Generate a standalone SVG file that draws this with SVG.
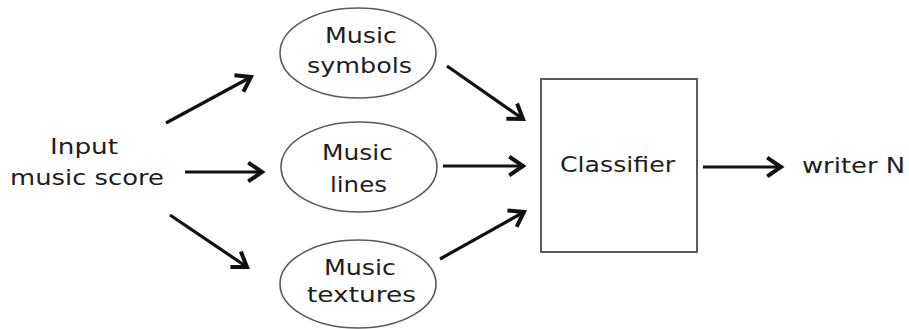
<svg xmlns="http://www.w3.org/2000/svg" width="909" height="329" viewBox="0 0 909 329">
<style>
  .lbl{font-family:"DejaVu Sans","Liberation Sans",sans-serif;font-size:22px;fill:#1e1e1e}
  .ell{fill:#fff;stroke:#5a5a5a;stroke-width:1.6}
  .box{fill:#fff;stroke:#5a5a5a;stroke-width:2}
  .edge{stroke:#111;stroke-width:3.2;fill:none;marker-end:url(#ah)}
</style>
<defs>
  <marker id="ah" markerUnits="userSpaceOnUse" markerWidth="30" markerHeight="30" refX="0" refY="0" viewBox="-16 -12 20 24" orient="auto">
    <path d="M-11,-7.5 L0,0 L-11,7.5" fill="none" stroke="#111" stroke-width="3.2" stroke-linejoin="miter"/>
  </marker>
</defs>
<rect width="909" height="329" fill="#fff"/>
<g id="input">
  <text class="lbl" x="50" y="154" textLength="68" lengthAdjust="spacingAndGlyphs">Input</text>
  <text class="lbl" x="10" y="185" textLength="154" lengthAdjust="spacingAndGlyphs">music score</text>
</g>
<g id="symbols">
  <ellipse class="ell" cx="358" cy="53" rx="78" ry="45"/>
  <text class="lbl" x="325" y="43" textLength="72" lengthAdjust="spacingAndGlyphs">Music</text>
  <text class="lbl" x="307" y="73" textLength="105" lengthAdjust="spacingAndGlyphs">symbols</text>
</g>
<g id="lines">
  <ellipse class="ell" cx="359" cy="167" rx="78" ry="45"/>
  <text class="lbl" x="322" y="160" textLength="71" lengthAdjust="spacingAndGlyphs">Music</text>
  <text class="lbl" x="330" y="192" textLength="57" lengthAdjust="spacingAndGlyphs">lines</text>
</g>
<g id="textures">
  <ellipse class="ell" cx="358" cy="284" rx="78" ry="44"/>
  <text class="lbl" x="324" y="275" textLength="72" lengthAdjust="spacingAndGlyphs">Music</text>
  <text class="lbl" x="307" y="302" textLength="109" lengthAdjust="spacingAndGlyphs">textures</text>
</g>
<g id="classifier">
  <rect class="box" x="541" y="79" width="156" height="173"/>
  <text class="lbl" x="560" y="172" textLength="115" lengthAdjust="spacingAndGlyphs">Classifier</text>
</g>
<g id="writer">
  <text class="lbl" x="802" y="173" textLength="103" lengthAdjust="spacingAndGlyphs">writer N</text>
</g>
<g id="connectors">
  <line class="edge" x1="166" y1="123" x2="251" y2="77"/>
  <line class="edge" x1="185" y1="172" x2="262" y2="172"/>
  <line class="edge" x1="170" y1="215" x2="247" y2="267"/>
  <line class="edge" x1="447" y1="66" x2="523" y2="119"/>
  <line class="edge" x1="443" y1="166" x2="523" y2="166"/>
  <line class="edge" x1="440" y1="259" x2="524" y2="212"/>
  <line class="edge" x1="703" y1="167" x2="781" y2="167"/>
</g>
</svg>
